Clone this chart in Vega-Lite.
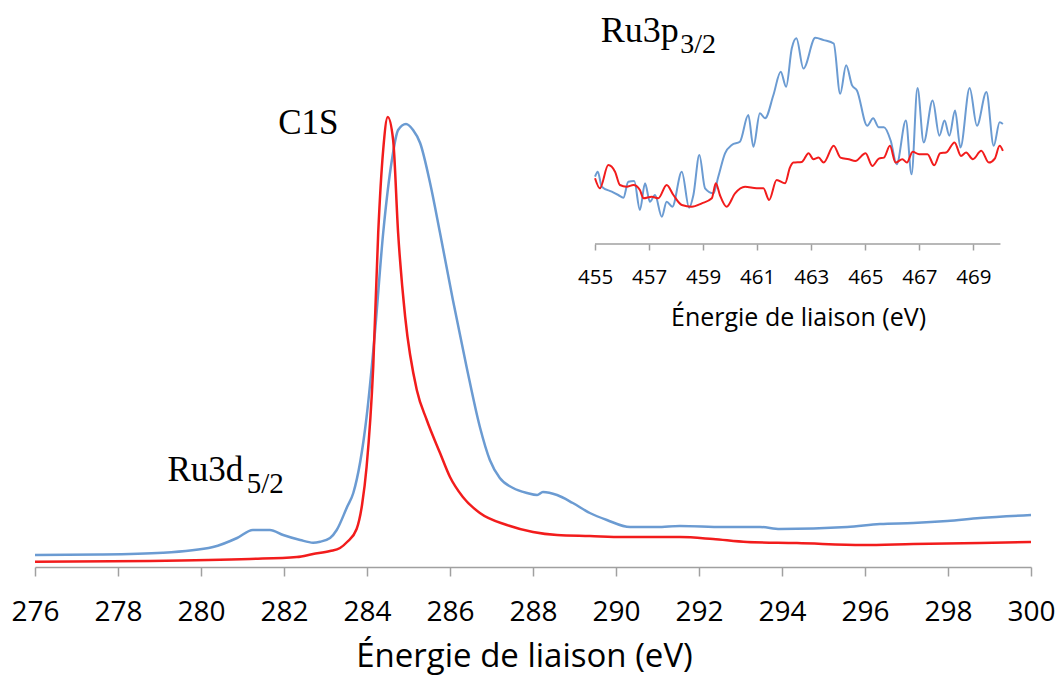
{
  "$schema": "https://vega.github.io/schema/vega-lite/v6.json",
  "width": 996,
  "height": 567,
  "autosize": {"type": "none"},
  "padding": {"left": 35, "top": 0, "right": 27, "bottom": 109},
  "background": "white",
  "config": {"view": {"stroke": null}, "axis": {"grid": false}},
  "datasets": {
    "main": [
      {"E": 276.0, "I": 12, "s": "Échantillon A"},
      {"E": 277.57, "I": 12.5, "s": "Échantillon A"},
      {"E": 279.08, "I": 14.3, "s": "Échantillon A"},
      {"E": 280.29, "I": 20, "s": "Échantillon A"},
      {"E": 280.87, "I": 29, "s": "Échantillon A"},
      {"E": 281.25, "I": 37, "s": "Échantillon A"},
      {"E": 281.66, "I": 37, "s": "Échantillon A"},
      {"E": 281.98, "I": 32, "s": "Échantillon A"},
      {"E": 282.39, "I": 27, "s": "Échantillon A"},
      {"E": 282.7, "I": 24.3, "s": "Échantillon A"},
      {"E": 282.87, "I": 25.3, "s": "Échantillon A"},
      {"E": 283.11, "I": 29, "s": "Échantillon A"},
      {"E": 283.27, "I": 37, "s": "Échantillon A"},
      {"E": 283.52, "I": 60, "s": "Échantillon A"},
      {"E": 283.67, "I": 74, "s": "Échantillon A"},
      {"E": 283.99, "I": 150, "s": "Échantillon A"},
      {"E": 284.19, "I": 234, "s": "Échantillon A"},
      {"E": 284.39, "I": 334, "s": "Échantillon A"},
      {"E": 284.6, "I": 407, "s": "Échantillon A"},
      {"E": 284.75, "I": 437, "s": "Échantillon A"},
      {"E": 284.94, "I": 443, "s": "Échantillon A"},
      {"E": 285.11, "I": 437, "s": "Échantillon A"},
      {"E": 285.28, "I": 424, "s": "Échantillon A"},
      {"E": 285.52, "I": 384, "s": "Échantillon A"},
      {"E": 285.76, "I": 334, "s": "Échantillon A"},
      {"E": 286.07, "I": 267, "s": "Échantillon A"},
      {"E": 286.4, "I": 200, "s": "Échantillon A"},
      {"E": 286.72, "I": 140, "s": "Échantillon A"},
      {"E": 286.96, "I": 107, "s": "Échantillon A"},
      {"E": 287.2, "I": 89, "s": "Échantillon A"},
      {"E": 287.52, "I": 79, "s": "Échantillon A"},
      {"E": 287.86, "I": 74, "s": "Échantillon A"},
      {"E": 288.1, "I": 72, "s": "Échantillon A"},
      {"E": 288.24, "I": 75, "s": "Échantillon A"},
      {"E": 288.58, "I": 72, "s": "Échantillon A"},
      {"E": 288.96, "I": 64, "s": "Échantillon A"},
      {"E": 289.37, "I": 54, "s": "Échantillon A"},
      {"E": 289.78, "I": 47, "s": "Échantillon A"},
      {"E": 290.34, "I": 40, "s": "Échantillon A"},
      {"E": 290.99, "I": 40, "s": "Échantillon A"},
      {"E": 291.54, "I": 41, "s": "Échantillon A"},
      {"E": 292.58, "I": 40, "s": "Échantillon A"},
      {"E": 293.47, "I": 40, "s": "Échantillon A"},
      {"E": 293.95, "I": 38, "s": "Échantillon A"},
      {"E": 295.57, "I": 40, "s": "Échantillon A"},
      {"E": 296.36, "I": 43, "s": "Échantillon A"},
      {"E": 297.16, "I": 44, "s": "Échantillon A"},
      {"E": 297.98, "I": 46, "s": "Échantillon A"},
      {"E": 298.77, "I": 49, "s": "Échantillon A"},
      {"E": 300.0, "I": 52, "s": "Échantillon A"},
      {"E": 276.0, "I": 5.3, "s": "Échantillon B"},
      {"E": 278.77, "I": 6, "s": "Échantillon B"},
      {"E": 281.18, "I": 8, "s": "Échantillon B"},
      {"E": 282.31, "I": 10, "s": "Échantillon B"},
      {"E": 282.7, "I": 13, "s": "Échantillon B"},
      {"E": 283.11, "I": 16, "s": "Échantillon B"},
      {"E": 283.35, "I": 19, "s": "Échantillon B"},
      {"E": 283.52, "I": 25, "s": "Échantillon B"},
      {"E": 283.75, "I": 38, "s": "Échantillon B"},
      {"E": 283.88, "I": 62, "s": "Échantillon B"},
      {"E": 283.99, "I": 100, "s": "Échantillon B"},
      {"E": 284.15, "I": 200, "s": "Échantillon B"},
      {"E": 284.27, "I": 334, "s": "Échantillon B"},
      {"E": 284.39, "I": 417, "s": "Échantillon B"},
      {"E": 284.5, "I": 450, "s": "Échantillon B"},
      {"E": 284.63, "I": 427, "s": "Échantillon B"},
      {"E": 284.75, "I": 334, "s": "Échantillon B"},
      {"E": 284.92, "I": 250, "s": "Échantillon B"},
      {"E": 285.2, "I": 177, "s": "Échantillon B"},
      {"E": 285.44, "I": 147, "s": "Échantillon B"},
      {"E": 285.76, "I": 114, "s": "Échantillon B"},
      {"E": 286.0, "I": 90, "s": "Échantillon B"},
      {"E": 286.31, "I": 70, "s": "Échantillon B"},
      {"E": 286.72, "I": 54, "s": "Échantillon B"},
      {"E": 287.37, "I": 42, "s": "Échantillon B"},
      {"E": 288.0, "I": 35, "s": "Échantillon B"},
      {"E": 288.58, "I": 32, "s": "Échantillon B"},
      {"E": 289.37, "I": 31, "s": "Échantillon B"},
      {"E": 290.17, "I": 30, "s": "Échantillon B"},
      {"E": 291.54, "I": 30, "s": "Échantillon B"},
      {"E": 292.34, "I": 28, "s": "Échantillon B"},
      {"E": 293.16, "I": 25, "s": "Échantillon B"},
      {"E": 294.36, "I": 24, "s": "Échantillon B"},
      {"E": 295.95, "I": 22, "s": "Échantillon B"},
      {"E": 297.16, "I": 23, "s": "Échantillon B"},
      {"E": 298.77, "I": 24, "s": "Échantillon B"},
      {"E": 300.0, "I": 25, "s": "Échantillon B"}
    ],
    "inset": [
      {"E": 455.0, "I": 66.3, "s": "Échantillon A"},
      {"E": 455.1, "I": 71.3, "s": "Échantillon A"},
      {"E": 455.25, "I": 56.3, "s": "Échantillon A"},
      {"E": 455.62, "I": 51.3, "s": "Échantillon A"},
      {"E": 455.86, "I": 48, "s": "Échantillon A"},
      {"E": 456.05, "I": 45.3, "s": "Échantillon A"},
      {"E": 456.23, "I": 61.3, "s": "Échantillon A"},
      {"E": 456.45, "I": 62, "s": "Échantillon A"},
      {"E": 456.66, "I": 33, "s": "Échantillon A"},
      {"E": 456.85, "I": 59.7, "s": "Échantillon A"},
      {"E": 457.03, "I": 41.3, "s": "Échantillon A"},
      {"E": 457.22, "I": 48, "s": "Échantillon A"},
      {"E": 457.47, "I": 26.3, "s": "Échantillon A"},
      {"E": 457.65, "I": 41.3, "s": "Échantillon A"},
      {"E": 457.86, "I": 36.3, "s": "Échantillon A"},
      {"E": 458.21, "I": 71.3, "s": "Échantillon A"},
      {"E": 458.48, "I": 35.3, "s": "Échantillon A"},
      {"E": 458.64, "I": 48, "s": "Échantillon A"},
      {"E": 458.86, "I": 88, "s": "Échantillon A"},
      {"E": 459.07, "I": 54.7, "s": "Échantillon A"},
      {"E": 459.38, "I": 49.7, "s": "Échantillon A"},
      {"E": 459.56, "I": 66.3, "s": "Échantillon A"},
      {"E": 459.81, "I": 89.7, "s": "Échantillon A"},
      {"E": 460.06, "I": 98, "s": "Échantillon A"},
      {"E": 460.36, "I": 101.3, "s": "Échantillon A"},
      {"E": 460.67, "I": 128, "s": "Échantillon A"},
      {"E": 460.86, "I": 96.3, "s": "Échantillon A"},
      {"E": 461.1, "I": 129.7, "s": "Échantillon A"},
      {"E": 461.29, "I": 124.7, "s": "Échantillon A"},
      {"E": 461.6, "I": 148, "s": "Échantillon A"},
      {"E": 461.87, "I": 171.3, "s": "Échantillon A"},
      {"E": 462.07, "I": 156.3, "s": "Échantillon A"},
      {"E": 462.28, "I": 194.7, "s": "Échantillon A"},
      {"E": 462.45, "I": 204.7, "s": "Échantillon A"},
      {"E": 462.71, "I": 174.4, "s": "Échantillon A"},
      {"E": 463.15, "I": 205.2, "s": "Échantillon A"},
      {"E": 463.46, "I": 202.9, "s": "Échantillon A"},
      {"E": 463.83, "I": 199.5, "s": "Échantillon A"},
      {"E": 464.07, "I": 149.2, "s": "Échantillon A"},
      {"E": 464.29, "I": 177.7, "s": "Échantillon A"},
      {"E": 464.51, "I": 157.6, "s": "Échantillon A"},
      {"E": 464.69, "I": 152.6, "s": "Échantillon A"},
      {"E": 465.07, "I": 117.3, "s": "Échantillon A"},
      {"E": 465.29, "I": 124.7, "s": "Échantillon A"},
      {"E": 465.5, "I": 115.7, "s": "Échantillon A"},
      {"E": 465.69, "I": 115.7, "s": "Échantillon A"},
      {"E": 465.94, "I": 102.2, "s": "Échantillon A"},
      {"E": 466.16, "I": 78.7, "s": "Échantillon A"},
      {"E": 466.5, "I": 122.4, "s": "Échantillon A"},
      {"E": 466.71, "I": 68.7, "s": "Échantillon A"},
      {"E": 466.93, "I": 154.9, "s": "Échantillon A"},
      {"E": 467.16, "I": 100.6, "s": "Échantillon A"},
      {"E": 467.49, "I": 142.5, "s": "Échantillon A"},
      {"E": 467.74, "I": 107.3, "s": "Échantillon A"},
      {"E": 467.93, "I": 122.4, "s": "Échantillon A"},
      {"E": 468.11, "I": 107.3, "s": "Échantillon A"},
      {"E": 468.32, "I": 132.4, "s": "Échantillon A"},
      {"E": 468.52, "I": 95.5, "s": "Échantillon A"},
      {"E": 468.86, "I": 154.9, "s": "Échantillon A"},
      {"E": 469.13, "I": 117.3, "s": "Échantillon A"},
      {"E": 469.48, "I": 150.9, "s": "Échantillon A"},
      {"E": 469.75, "I": 97.2, "s": "Échantillon A"},
      {"E": 469.97, "I": 120.7, "s": "Échantillon A"},
      {"E": 470.09, "I": 119, "s": "Échantillon A"},
      {"E": 455.0, "I": 64.7, "s": "Échantillon B"},
      {"E": 455.18, "I": 54.7, "s": "Échantillon B"},
      {"E": 455.49, "I": 78, "s": "Échantillon B"},
      {"E": 455.74, "I": 71.3, "s": "Échantillon B"},
      {"E": 455.92, "I": 58, "s": "Échantillon B"},
      {"E": 456.17, "I": 56.3, "s": "Échantillon B"},
      {"E": 456.42, "I": 58, "s": "Échantillon B"},
      {"E": 456.66, "I": 53, "s": "Échantillon B"},
      {"E": 456.79, "I": 44.7, "s": "Échantillon B"},
      {"E": 457.1, "I": 46.3, "s": "Échantillon B"},
      {"E": 457.34, "I": 44.7, "s": "Échantillon B"},
      {"E": 457.65, "I": 58, "s": "Échantillon B"},
      {"E": 457.9, "I": 48, "s": "Échantillon B"},
      {"E": 458.21, "I": 38, "s": "Échantillon B"},
      {"E": 458.58, "I": 36.3, "s": "Échantillon B"},
      {"E": 458.95, "I": 39.7, "s": "Échantillon B"},
      {"E": 459.32, "I": 44.7, "s": "Échantillon B"},
      {"E": 459.47, "I": 59.7, "s": "Échantillon B"},
      {"E": 459.62, "I": 48, "s": "Échantillon B"},
      {"E": 459.87, "I": 36.3, "s": "Échantillon B"},
      {"E": 460.18, "I": 49.7, "s": "Échantillon B"},
      {"E": 460.55, "I": 56.3, "s": "Échantillon B"},
      {"E": 460.98, "I": 54.7, "s": "Échantillon B"},
      {"E": 461.23, "I": 54.7, "s": "Échantillon B"},
      {"E": 461.44, "I": 43, "s": "Échantillon B"},
      {"E": 461.72, "I": 63, "s": "Échantillon B"},
      {"E": 462.03, "I": 59.7, "s": "Échantillon B"},
      {"E": 462.21, "I": 75.4, "s": "Échantillon B"},
      {"E": 462.34, "I": 80.4, "s": "Échantillon B"},
      {"E": 462.65, "I": 81.1, "s": "Échantillon B"},
      {"E": 462.9, "I": 89.8, "s": "Échantillon B"},
      {"E": 463.08, "I": 83.8, "s": "Échantillon B"},
      {"E": 463.27, "I": 85.4, "s": "Échantillon B"},
      {"E": 463.46, "I": 80.4, "s": "Échantillon B"},
      {"E": 463.83, "I": 97.2, "s": "Échantillon B"},
      {"E": 464.08, "I": 85.4, "s": "Échantillon B"},
      {"E": 464.39, "I": 83.8, "s": "Échantillon B"},
      {"E": 464.63, "I": 82.1, "s": "Échantillon B"},
      {"E": 465.01, "I": 89.8, "s": "Échantillon B"},
      {"E": 465.26, "I": 77.1, "s": "Échantillon B"},
      {"E": 465.5, "I": 84.4, "s": "Échantillon B"},
      {"E": 465.69, "I": 85.4, "s": "Échantillon B"},
      {"E": 465.91, "I": 97.2, "s": "Échantillon B"},
      {"E": 466.12, "I": 80.4, "s": "Échantillon B"},
      {"E": 466.37, "I": 83.8, "s": "Échantillon B"},
      {"E": 466.54, "I": 80.4, "s": "Échantillon B"},
      {"E": 466.75, "I": 91.2, "s": "Échantillon B"},
      {"E": 466.99, "I": 88.8, "s": "Échantillon B"},
      {"E": 467.3, "I": 88.8, "s": "Échantillon B"},
      {"E": 467.55, "I": 77.7, "s": "Échantillon B"},
      {"E": 467.77, "I": 89.8, "s": "Échantillon B"},
      {"E": 467.99, "I": 90.5, "s": "Échantillon B"},
      {"E": 468.3, "I": 100.6, "s": "Échantillon B"},
      {"E": 468.54, "I": 87.1, "s": "Échantillon B"},
      {"E": 468.73, "I": 90.5, "s": "Échantillon B"},
      {"E": 468.98, "I": 83.8, "s": "Échantillon B"},
      {"E": 469.29, "I": 92.2, "s": "Échantillon B"},
      {"E": 469.57, "I": 80.4, "s": "Échantillon B"},
      {"E": 469.79, "I": 84.4, "s": "Échantillon B"},
      {"E": 469.97, "I": 97.2, "s": "Échantillon B"},
      {"E": 470.09, "I": 92.2, "s": "Échantillon B"}
    ],
    "labels": [
      {"label": "C1S", "E": 281.86, "I": 433, "kind": "mainBig"},
      {"label": "Ru3d", "E": 279.19, "I": 86, "kind": "mainBig"},
      {"label": "5/2", "E": 281.1, "I": 74, "kind": "mainSub"},
      {"label": "Ru3p", "E": 455.21, "I": 200.7, "kind": "insetBig"},
      {"label": "3/2", "E": 458.15, "I": 189.7, "kind": "insetSub"}
    ],
    "insetAxis": [
      {"from": 455, "to": 470, "I": -1}
    ]
  },
  "layer": [
    {
      "data": {"name": "main"},
      "mark": {"type": "line", "strokeWidth": 2.5, "interpolate": "monotone"},
      "encoding": {
        "x": {
          "field": "E", "type": "quantitative",
          "scale": {"domain": [276, 300], "nice": false, "zero": false},
          "axis": {
            "orient": "bottom", "values": [276, 278, 280, 282, 284, 286, 288, 290, 292, 294, 296, 298, 300],
            "domainColor": "#a0a0a0", "domainWidth": 1.5,
            "tickColor": "#a0a0a0", "tickWidth": 1.5, "tickSize": 9,
            "labelFont": "Open Sans", "labelFontSize": 28, "labelColor": "#000000",
            "labelBaseline": "alphabetic", "labelPadding": 44,
            "labelFlush": false, "labelOverlap": false,
            "title": "Énergie de liaison (eV)", "titleFont": "Open Sans", "titleFontSize": 33,
            "titleFontWeight": "normal", "titleColor": "#000000",
            "titleAlign": "center", "titleBaseline": "alphabetic", "titleX": 489, "titleY": 99
          }
        },
        "y": {"field": "I", "type": "quantitative", "scale": {"domain": [0, 567], "nice": false, "zero": false}, "axis": null},
        "color": {"field": "s", "type": "nominal", "scale": {"domain": ["Échantillon A", "Échantillon B"], "range": ["#6b9bd2", "#f21c1c"]}, "legend": null}
      }
    },
    {
      "data": {"name": "inset"},
      "mark": {"type": "line", "strokeWidth": 2, "interpolate": "monotone"},
      "encoding": {
        "x": {
          "field": "E", "type": "quantitative",
          "scale": {"domain": [434.28, 471.13], "nice": false, "zero": false},
          "axis": {
            "orient": "bottom", "offset": -323, "values": [455, 457, 459, 461, 463, 465, 467, 469],
            "domain": false,
            "tickColor": "#a0a0a0", "tickWidth": 1.5, "tickSize": 6,
            "labelFont": "Open Sans", "labelFontSize": 20.5, "labelColor": "#000000",
            "labelBaseline": "alphabetic", "labelPadding": 33,
            "labelFlush": false, "labelOverlap": false,
            "title": "Énergie de liaison (eV)", "titleFont": "Open Sans", "titleFontSize": 25,
            "titleFontWeight": "normal", "titleColor": "#000000",
            "titleAlign": "center", "titleBaseline": "alphabetic", "titleX": 763, "titleY": 81
          }
        },
        "y": {"field": "I", "type": "quantitative", "scale": {"domain": [-324, 243], "nice": false, "zero": false}, "axis": null},
        "color": {"field": "s", "type": "nominal", "scale": {"domain": ["Échantillon A", "Échantillon B"], "range": ["#6b9bd2", "#f21c1c"]}, "legend": null}
      }
    },
    {
      "data": {"name": "insetAxis"},
      "mark": {"type": "rule", "color": "#a0a0a0", "strokeWidth": 1.5},
      "encoding": {
        "x": {"field": "from", "type": "quantitative", "scale": {"domain": [434.28, 471.13], "nice": false, "zero": false}, "axis": null},
        "x2": {"field": "to"},
        "y": {"field": "I", "type": "quantitative", "scale": {"domain": [-324, 243], "nice": false, "zero": false}, "axis": null}
      }
    },
    {
      "data": {"name": "labels"},
      "transform": [{"filter": "datum.kind === 'mainBig'"}],
      "mark": {"type": "text", "font": "Liberation Serif", "fontSize": 35, "align": "left", "baseline": "alphabetic", "color": "#000000"},
      "encoding": {
        "x": {"field": "E", "type": "quantitative", "scale": {"domain": [276, 300], "nice": false, "zero": false}, "axis": null},
        "y": {"field": "I", "type": "quantitative", "scale": {"domain": [0, 567], "nice": false, "zero": false}, "axis": null},
        "text": {"field": "label"}
      }
    },
    {
      "data": {"name": "labels"},
      "transform": [{"filter": "datum.kind === 'mainSub'"}],
      "mark": {"type": "text", "font": "Liberation Serif", "fontSize": 29, "align": "left", "baseline": "alphabetic", "color": "#000000"},
      "encoding": {
        "x": {"field": "E", "type": "quantitative", "scale": {"domain": [276, 300], "nice": false, "zero": false}, "axis": null},
        "y": {"field": "I", "type": "quantitative", "scale": {"domain": [0, 567], "nice": false, "zero": false}, "axis": null},
        "text": {"field": "label"}
      }
    },
    {
      "data": {"name": "labels"},
      "transform": [{"filter": "datum.kind === 'insetBig'"}],
      "mark": {"type": "text", "font": "Liberation Serif", "fontSize": 36, "align": "left", "baseline": "alphabetic", "color": "#000000"},
      "encoding": {
        "x": {"field": "E", "type": "quantitative", "scale": {"domain": [434.28, 471.13], "nice": false, "zero": false}, "axis": null},
        "y": {"field": "I", "type": "quantitative", "scale": {"domain": [-324, 243], "nice": false, "zero": false}, "axis": null},
        "text": {"field": "label"}
      }
    },
    {
      "data": {"name": "labels"},
      "transform": [{"filter": "datum.kind === 'insetSub'"}],
      "mark": {"type": "text", "font": "Liberation Serif", "fontSize": 28, "align": "left", "baseline": "alphabetic", "color": "#000000"},
      "encoding": {
        "x": {"field": "E", "type": "quantitative", "scale": {"domain": [434.28, 471.13], "nice": false, "zero": false}, "axis": null},
        "y": {"field": "I", "type": "quantitative", "scale": {"domain": [-324, 243], "nice": false, "zero": false}, "axis": null},
        "text": {"field": "label"}
      }
    }
  ],
  "resolve": {"scale": {"x": "independent", "y": "independent", "color": "shared"}, "axis": {"x": "independent", "y": "independent"}}
}
